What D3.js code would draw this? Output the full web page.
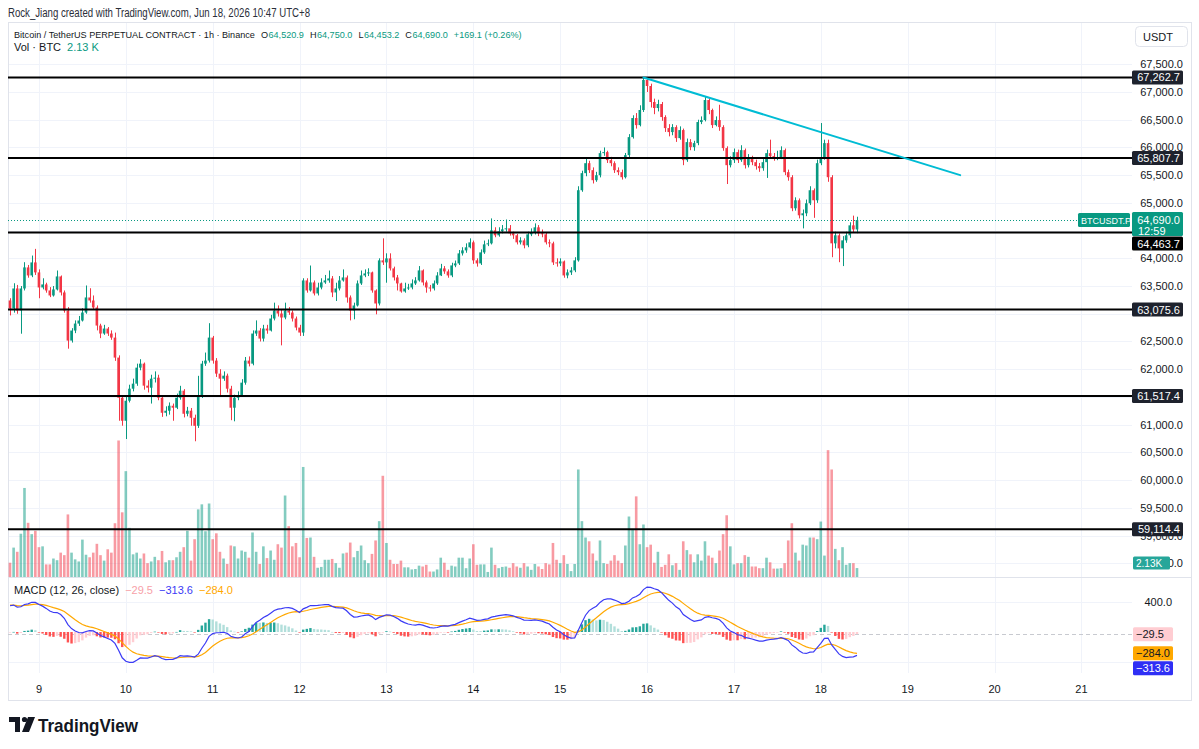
<!DOCTYPE html>
<html>
<head>
<meta charset="utf-8">
<title>BTCUSDT.P 1h</title>
<script src="https://cdn.jsdelivr.net/npm/d3@7/dist/d3.min.js"></script>
<style>
  html, body { margin: 0; padding: 0; background: #fff; }
  svg { display: block; font-family: "Liberation Sans", Arial, sans-serif; }
</style>
</head>
<body>
<svg id="chart" width="1199" height="749"></svg>
<script>
'use strict';

// hourly candles from Jun 8 16:00 to Jun 18 10:00 (UTC+8), open = previous close
var firstOpen = 63240;
var closes = [
    63095, 63456, 63059, 63456, 63836, 63691, 63926, 63746, 63474, 63529,
    63420, 63330, 63438, 63673, 63384, 63059, 62516, 62697, 62823, 62878,
    63022, 63294, 63239, 63113, 62787, 62643, 62733, 62643, 62570, 62209,
    61485, 61070, 61431, 61648, 61739, 62028, 62100, 61703, 61666, 61829,
    61847, 61485, 61214, 61251, 61341, 61305, 61485, 61612, 61196, 61251,
    61124, 60979, 61522, 62100, 62155, 62570, 62155, 61920, 61829, 61883,
    61648, 61305, 61485, 61522, 61757, 62155, 62100, 62643, 62697, 62552,
    62733, 62697, 62914, 63059, 63004, 62932, 63059, 63022, 62914, 62751,
    62661, 63601, 63420, 63565, 63366, 63474, 63565, 63601, 63637, 63384,
    63456, 63601, 63655, 63294, 63059, 63149, 63547, 63691, 63727, 63746,
    63420, 63185, 63963, 63926, 63999, 63818, 63655, 63547, 63402, 63456,
    63474, 63547, 63601, 63782, 63565, 63474, 63456, 63547, 63691, 63818,
    63764, 63691, 63872, 63908, 64089, 64143, 64198, 64288, 63963, 63908,
    64107, 64252, 64270, 64505, 64415, 64487, 64523, 64541, 64451, 64415,
    64288, 64324, 64234, 64433, 64469, 64559, 64451, 64433, 64288, 64270,
    63926, 63908, 63944, 63691, 63746, 63782, 63963, 65228, 65536, 65716,
    65590, 65409, 65499, 65897, 65915, 65771, 65716, 65590, 65554, 65463,
    65861, 66186, 66530, 66403, 66675, 67217, 67108, 66819, 66711, 66783,
    66548, 66349, 66277, 66367, 66168, 66313, 65771, 66096, 66006, 66078,
    66458, 66494, 66855, 66675, 66403, 66494, 66367, 65988, 65680, 65771,
    65915, 65771, 65951, 65680, 65807, 65734, 65662, 65626, 65734, 65897,
    65843, 65807, 65825, 65951, 65554, 65463, 64903, 65047, 64776, 64812,
    64993, 65228, 65047, 65716, 65825, 66078, 65463, 64270, 64415, 64179,
    64324, 64415, 64595, 64520.9, 64690
];
var highs = [
    63280, 63550, 63520, 63500, 63930, 63880, 64050, 64170, 63800, 63640,
    63560, 63480, 63500, 63780, 63690, 63420, 63120, 62740, 62880, 62960,
    63100, 63510, 63460, 63330, 63150, 62820, 62800, 62760, 62700, 62660,
    62250, 61520, 61500, 61720, 61830, 62100, 62180, 62120, 61800, 61900,
    61960, 61900, 61520, 61330, 61400, 61380, 61560, 61700, 61640, 61320,
    61300, 61180, 61880, 62150, 62300, 62830, 62600, 62200, 62000, 61960,
    61920, 61700, 61540, 61600, 61820, 62220, 62230, 62700, 62880, 62740,
    62800, 62800, 62980, 63200, 63150, 63080, 63200, 63120, 63060, 62950,
    62800, 63640, 63640, 63870, 63600, 63560, 63640, 63700, 63780, 63680,
    63560, 63680, 63800, 63690, 63330, 63200, 63600, 63780, 63800, 63820,
    63760, 63440, 64000, 64360, 64090, 64090, 63850, 63700, 63560, 63560,
    63540, 63620, 63660, 63860, 63800, 63600, 63520, 63600, 63750, 63900,
    63860, 63800, 63920, 63960, 64150, 64200, 64270, 64360, 64320, 64000,
    64160, 64320, 64340, 64720, 64560, 64560, 64600, 64700, 64600, 64480,
    64440, 64380, 64360, 64480, 64540, 64630, 64600, 64520, 64460, 64340,
    64300, 64000, 64000, 63960, 63800, 63840, 64020, 65300, 65580, 65800,
    65760, 65640, 65560, 65940, 66000, 65940, 65830, 65750, 65640, 65600,
    65900, 66240, 66580, 66620, 66760, 67262.7, 67240, 67150, 66880, 66860,
    66820, 66580, 66420, 66420, 66400, 66380, 66340, 66160, 66150, 66120,
    66500, 66560, 66910, 66900, 66700, 66560, 66770, 66400, 66020, 65840,
    65980, 65960, 66040, 65980, 65880, 65850, 65780, 65720, 65790, 65960,
    66140, 65900, 65940, 66020, 65980, 65600, 65500, 65100, 65080, 64880,
    65060, 65300, 65260, 65780, 66440, 66140, 66140, 65500, 64480, 64450,
    64400, 64480, 64650, 64770, 64750
];
var lows = [
    62970, 63020, 63000, 62640, 63420, 63650, 63660, 63700, 63280, 63440,
    63380, 63300, 63310, 63420, 63330, 63020, 62370, 62480, 62650, 62780,
    62860, 63000, 63200, 63080, 62700, 62560, 62620, 62600, 62530, 62150,
    61070, 60980, 60740, 61400, 61600, 61700, 61980, 61630, 61580, 61380,
    61760, 61440, 61140, 61150, 61180, 61070, 61280, 61450, 61130, 61150,
    60980, 60700, 60940, 61480, 62060, 62120, 62100, 61860, 61520, 61790,
    61580, 61080, 61060, 61440, 61500, 61720, 62050, 62070, 62600, 62500,
    62500, 62640, 62680, 62880, 62950, 62430, 62900, 62980, 62860, 62700,
    62600, 62600, 63380, 63400, 63330, 63330, 63440, 63540, 63560, 63300,
    63230, 63420, 63580, 63200, 62880, 62900, 63130, 63520, 63660, 63680,
    63380, 62990, 63150, 63880, 63560, 63780, 63600, 63420, 63380, 63380,
    63430, 63440, 63520, 63580, 63510, 63380, 63400, 63420, 63520, 63680,
    63720, 63650, 63660, 63840, 63880, 64050, 64100, 64180, 63900, 63850,
    63880, 64080, 64220, 64250, 64380, 64390, 64450, 64480, 64410, 64350,
    64250, 64250, 64180, 64200, 64400, 64430, 64400, 64380, 64250, 64200,
    63880, 63850, 63860, 63650, 63640, 63700, 63750, 63940, 65200, 65480,
    65540, 65350, 65380, 65460, 65850, 65720, 65660, 65540, 65500, 65420,
    65440, 65820, 66160, 66340, 66380, 66640, 67000, 66720, 66600, 66650,
    66480, 66280, 66200, 66220, 66100, 66140, 65680, 65740, 65950, 65940,
    66040, 66420, 66470, 66600, 66350, 66380, 66300, 65940, 65340, 65640,
    65720, 65720, 65740, 65620, 65640, 65680, 65600, 65560, 65580, 65450,
    65800, 65760, 65770, 65790, 65500, 65400, 64850, 64860, 64720, 64540,
    64760, 64960, 64730, 65000, 65680, 65780, 65380, 64020, 64180, 63930,
    63860, 64280, 64370, 64460, 64453.2
];
// volume in thousands of BTC
var volumesK = [
    3.4, 7.0, 6.0, 10.3, 21.2, 12.9, 10.2, 11.0, 7.1, 7.3,
    3.0, 3.0, 4.4, 4.0, 5.8, 5.2, 14.9, 5.8, 4.2, 3.7,
    8.9, 5.3, 4.7, 5.8, 7.9, 5.2, 3.9, 6.6, 5.8, 12.8,
    32.5, 15.4, 25.2, 11.7, 5.4, 5.8, 4.4, 5.6, 3.3, 3.7,
    4.8, 4.0, 6.2, 3.5, 4.0, 4.0, 4.7, 6.0, 7.1, 11.0,
    3.9, 9.0, 16.1, 17.3, 10.9, 17.5, 9.0, 10.4, 6.0, 4.4,
    3.1, 7.5, 7.3, 4.4, 6.3, 6.0, 4.6, 10.6, 6.0, 3.1,
    7.3, 4.5, 6.3, 4.1, 7.8, 7.0, 19.4, 12.1, 7.3, 8.1,
    4.7, 26.2, 9.3, 9.4, 4.8, 2.2, 2.4, 4.1, 4.1, 4.3,
    3.3, 2.2, 5.6, 5.8, 8.2, 4.7, 6.2, 7.5, 4.0, 3.3,
    5.5, 8.7, 13.3, 24.1, 8.1, 4.1, 3.1, 3.1, 3.9, 2.3,
    2.3, 1.8, 1.9, 2.7, 2.5, 2.9, 1.3, 1.3, 1.8, 4.6,
    3.4, 1.7, 2.7, 2.5, 4.6, 4.6, 2.1, 4.4, 7.8, 2.9,
    3.0, 3.0, 1.2, 7.0, 2.9, 2.1, 2.4, 2.5, 2.2, 3.3,
    2.5, 2.2, 3.3, 2.5, 1.7, 3.1, 2.5, 1.9, 3.3, 3.0,
    8.1, 4.1, 3.3, 5.2, 3.1, 1.4, 3.1, 25.6, 13.3, 9.4,
    8.5, 5.6, 3.9, 8.7, 3.3, 3.1, 3.9, 5.2, 3.9, 3.3,
    7.5, 14.4, 11.3, 19.2, 7.8, 12.5, 7.1, 7.7, 3.4, 6.0,
    2.4, 2.9, 5.4, 2.8, 3.3, 1.7, 8.5, 6.4, 5.4, 3.5,
    5.4, 3.9, 8.5, 5.1, 4.6, 3.3, 6.3, 10.2, 14.7, 7.3,
    3.0, 3.3, 3.3, 5.2, 4.8, 2.5, 2.5, 2.1, 2.1, 4.6,
    3.5, 2.0, 2.0, 2.1, 3.3, 8.7, 12.8, 5.8, 3.9, 7.7,
    7.5, 9.4, 9.4, 9.0, 13.2, 5.1, 30.2, 25.6, 6.7, 4.0,
    7.1, 2.9, 3.3, 3.3, 2.13
];

var dayTicks = [9, 10, 11, 12, 13, 14, 15, 16, 17, 18, 19, 20, 21];
var priceTicks = [58500, 59000, 59500, 60000, 60500, 61000, 61500, 62000, 62500,
    63000, 63500, 64000, 64500, 65000, 65500, 66000, 66500, 67000, 67500];
var levels = [67262.7, 65807.7, 64463.7, 63075.6, 61517.4, 59114.4];
var trendPoints = [[175, 67262.7], [262.5, 65500]];
var lastPrice = 64690;
var countdown = '12:59';
var lastVolLabel = '2.13K';
var macdGrid = [400, -400];
var macdAxisTicks = [400];
var macdLastValues = [-29.5, -284.0, -313.6];
var macdLastTexts = ['\u221229.5', '\u2212284.0', '\u2212313.6'];
// EMA state carried in from the candles before the visible window
var emaFastStart = 63000;
var emaSlowStart = 62630;
var signalStart = 360;

var UP = '#089981';
var DOWN = '#f23645';
var TEXT = '#131722';
var GRID = '#f0f3fa';

var svg = d3.select('#chart');
var fmtPrice = d3.format(',.1f');

var plotLeft = 8;
var plotRight = 1132;
var frameRight = 1191;
var paneSplit = 577;
var macdBottom = 673;

var x = d3.scaleLinear().domain([0, 234]).range([10, 857]);
var y = d3.scaleLinear().domain([59000, 67000]).range([535.5, 92]);
var yVol = d3.scaleLinear().domain([0, 35]).range([paneSplit, 430]);
var yMacd = d3.scaleLinear().domain([-400, 400]).range([662, 602]);

// hour 0 of the series is Jun 8 16:00, so midnight of day d sits at index (d - 9) * 24 + 8
function dayIndex(d) { return (d - 9) * 24 + 8; }

var candles = closes.map(function(c, i) {
    var o = i === 0 ? firstOpen : closes[i - 1];
    return {
        i: i, o: o, c: c,
        h: Math.max(highs[i], o, c),
        l: Math.min(lows[i], o, c),
        v: volumesK[i]
    };
});

// MACD (12, 26, close)
var kFast = 2 / 13, kSlow = 2 / 27, kSig = 2 / 10;
var eFast = emaFastStart, eSlow = emaSlowStart, sig = signalStart;
var macdRows = closes.map(function(c, i) {
    eFast = c * kFast + eFast * (1 - kFast);
    eSlow = c * kSlow + eSlow * (1 - kSlow);
    var m = eFast - eSlow;
    sig = m * kSig + sig * (1 - kSig);
    return {i: i, macd: m, signal: sig, hist: m - sig};
});

var defs = svg.append('defs');
defs.append('clipPath').attr('id', 'clipPrice')
    .append('rect').attr('x', plotLeft).attr('y', 22).attr('width', plotRight - plotLeft).attr('height', paneSplit - 22);
defs.append('clipPath').attr('id', 'clipMacd')
    .append('rect').attr('x', plotLeft).attr('y', paneSplit).attr('width', plotRight - plotLeft).attr('height', macdBottom - paneSplit);

// grid
var grid = svg.append('g');
grid.selectAll('line.v').data(dayTicks).enter().append('line')
    .attr('x1', function(d) { return Math.round(x(dayIndex(d))) + 0.5; })
    .attr('x2', function(d) { return Math.round(x(dayIndex(d))) + 0.5; })
    .attr('y1', 22).attr('y2', macdBottom)
    .attr('stroke', GRID);
grid.selectAll('line.h').data(priceTicks).enter().append('line')
    .attr('x1', plotLeft).attr('x2', plotRight)
    .attr('y1', function(d) { return Math.round(y(d)) + 0.5; })
    .attr('y2', function(d) { return Math.round(y(d)) + 0.5; })
    .attr('stroke', GRID);
grid.selectAll('line.m').data(macdGrid).enter().append('line')
    .attr('x1', plotLeft).attr('x2', plotRight)
    .attr('y1', function(d) { return Math.round(yMacd(d)) + 0.5; })
    .attr('y2', function(d) { return Math.round(yMacd(d)) + 0.5; })
    .attr('stroke', GRID);

// frame and pane separator
svg.append('rect')
    .attr('x', 8.5).attr('y', 22.5).attr('width', frameRight - 8).attr('height', 678)
    .attr('fill', 'none').attr('stroke', '#e0e3eb');
svg.append('line')
    .attr('x1', 8).attr('x2', frameRight).attr('y1', paneSplit + 0.5).attr('y2', paneSplit + 0.5)
    .attr('stroke', '#e0e3eb');

var pricePane = svg.append('g').attr('clip-path', 'url(#clipPrice)');

// volume
var barW = 2.6;
pricePane.append('g').selectAll('rect').data(candles).enter().append('rect')
    .attr('x', function(d) { return x(d.i) - barW / 2; })
    .attr('width', barW)
    .attr('y', function(d) { return yVol(d.v); })
    .attr('height', function(d) { return paneSplit - yVol(d.v); })
    .attr('fill', function(d) { return d.c >= d.o ? 'rgba(8,153,129,0.5)' : 'rgba(242,54,69,0.5)'; });

// candles
var cg = pricePane.append('g');
cg.selectAll('line').data(candles).enter().append('line')
    .attr('x1', function(d) { return Math.round(x(d.i)) + 0.5; })
    .attr('x2', function(d) { return Math.round(x(d.i)) + 0.5; })
    .attr('y1', function(d) { return y(d.h); })
    .attr('y2', function(d) { return y(d.l); })
    .attr('stroke', function(d) { return d.c >= d.o ? UP : DOWN; })
    .attr('stroke-width', 1);
cg.selectAll('rect').data(candles).enter().append('rect')
    .attr('x', function(d) { return x(d.i) - barW / 2; })
    .attr('width', barW)
    .attr('y', function(d) { return y(Math.max(d.o, d.c)); })
    .attr('height', function(d) { return Math.max(1, Math.abs(y(d.o) - y(d.c))); })
    .attr('fill', function(d) { return d.c >= d.o ? UP : DOWN; });

// horizontal levels
pricePane.append('g').selectAll('line').data(levels).enter().append('line')
    .attr('x1', plotLeft).attr('x2', plotRight)
    .attr('y1', function(d) { return y(d); })
    .attr('y2', function(d) { return y(d); })
    .attr('stroke', '#000').attr('stroke-width', 2);

// trendline
pricePane.append('line')
    .attr('x1', x(trendPoints[0][0])).attr('y1', y(trendPoints[0][1]))
    .attr('x2', x(trendPoints[1][0])).attr('y2', y(trendPoints[1][1]))
    .attr('stroke', '#00bcd4').attr('stroke-width', 2).attr('stroke-linecap', 'round');

// last price line
pricePane.append('line')
    .attr('x1', plotLeft).attr('x2', 1078)
    .attr('y1', Math.round(y(lastPrice)) + 0.5).attr('y2', Math.round(y(lastPrice)) + 0.5)
    .attr('stroke', UP).attr('stroke-width', 1).attr('stroke-dasharray', '1,2');

// MACD pane
var macdPane = svg.append('g').attr('clip-path', 'url(#clipMacd)');
macdPane.append('line')
    .attr('x1', plotLeft).attr('x2', plotRight)
    .attr('y1', Math.round(yMacd(macdLastValues[0])) + 0.5)
    .attr('y2', Math.round(yMacd(macdLastValues[0])) + 0.5)
    .attr('stroke', '#c8cad0').attr('stroke-dasharray', '4,3');
macdPane.append('g').selectAll('rect').data(macdRows).enter().append('rect')
    .attr('x', function(d) { return x(d.i) - 1.2; })
    .attr('width', 2.4)
    .attr('y', function(d) { return Math.min(yMacd(d.hist), yMacd(0)); })
    .attr('height', function(d) { return Math.max(0.6, Math.abs(yMacd(d.hist) - yMacd(0))); })
    .attr('fill', function(d, i) {
        var prev = i > 0 ? macdRows[i - 1].hist : d.hist;
        if(d.hist >= 0) return d.hist >= prev ? '#26a69a' : '#b2dfdb';
        return d.hist < prev ? '#ff5252' : '#ffcdd2';
    });
var signalLine = d3.line().x(function(d) { return x(d.i); }).y(function(d) { return yMacd(d.signal); });
var macdLine = d3.line().x(function(d) { return x(d.i); }).y(function(d) { return yMacd(d.macd); });
macdPane.append('path').datum(macdRows).attr('d', signalLine)
    .attr('fill', 'none').attr('stroke', '#ffa800').attr('stroke-width', 1.2);
macdPane.append('path').datum(macdRows).attr('d', macdLine)
    .attr('fill', 'none').attr('stroke', '#3b3bf5').attr('stroke-width', 1.2);

// right price axis: tick labels that sit under a level tag or the last price tag stay hidden
var lastTagTop = y(lastPrice) - 8;
var lastTagBottom = y(lastPrice) + 16;
function coveredTick(p) {
    var yp = y(p);
    if(yp > lastTagTop - 4 && yp < lastTagBottom + 4) return true;
    return levels.some(function(v) { return Math.abs(y(v) - yp) < 6; });
}
var axisG = svg.append('g').attr('font-size', 11).attr('fill', TEXT);
axisG.selectAll('text.p').data(priceTicks.filter(function(p) { return !coveredTick(p); }))
    .enter().append('text')
    .attr('x', 1183).attr('y', function(d) { return y(d) + 4; })
    .attr('text-anchor', 'end')
    .text(function(d) { return fmtPrice(d); });
axisG.selectAll('text.m').data(macdAxisTicks).enter().append('text')
    .attr('x', 1172).attr('y', function(d) { return yMacd(d) + 4; })
    .attr('text-anchor', 'end')
    .text(function(d) { return fmtPrice(d); });

function tag(x0, yc, w, h, fill, txt, color, anchor, size) {
    var g = svg.append('g');
    g.append('rect').attr('x', x0).attr('y', yc - h / 2).attr('width', w).attr('height', h)
        .attr('rx', 1.5).attr('fill', fill);
    g.append('text')
        .attr('x', anchor === 'end' ? x0 + w - 3 : x0 + 3)
        .attr('y', yc + 4)
        .attr('text-anchor', anchor === 'end' ? 'end' : 'start')
        .attr('font-size', size || 11).attr('fill', color)
        .text(txt);
    return g;
}

// last price tag
var lp = svg.append('g');
lp.append('rect').attr('x', 1132).attr('y', lastTagTop).attr('width', 51).attr('height', lastTagBottom - lastTagTop)
    .attr('rx', 1.5).attr('fill', UP);
lp.append('text').attr('x', 1180).attr('y', y(lastPrice) + 4).attr('text-anchor', 'end')
    .attr('font-size', 11).attr('fill', '#fff').text(fmtPrice(lastPrice));
lp.append('text').attr('x', 1138).attr('y', y(lastPrice) + 14.5)
    .attr('font-size', 11).attr('fill', '#fff').text(countdown);
tag(1078, y(lastPrice), 52, 14, UP, 'BTCUSDT.P', '#fff', 'start', 9);

// level tags, pushed below the last price tag where they would collide
levels.forEach(function(v) {
    var yc = y(v);
    if(yc + 7 > lastTagTop && yc - 7 < lastTagBottom) yc = lastTagBottom + 7.5;
    tag(1132, yc, 51, 14, v === 64463.7 ? '#000' : '#1e222d', fmtPrice(v), '#fff', 'end');
});

// volume tag (kept inside the pane)
tag(1133, Math.min(yVol(volumesK[volumesK.length - 1]), 563), 37, 13, '#26a69a', lastVolLabel, '#fff', 'start', 10);

// MACD tags, stacked so they do not overlap
var macdTagFill = ['#ffcdd2', '#ffa800', '#2f2ff5'];
var macdTagText = [TEXT, TEXT, '#fff'];
var macdTagY = [];
macdLastValues.forEach(function(v, k) {
    var yc = yMacd(v);
    if(k > 0 && yc < macdTagY[k - 1] + 15) yc = macdTagY[k - 1] + 15;
    macdTagY.push(yc);
    tag(1133, yc, 40, 14, macdTagFill[k], macdLastTexts[k], macdTagText[k], 'start');
});

// USDT button
svg.append('rect').attr('x', 1135.5).attr('y', 26.5).attr('width', 52).attr('height', 20)
    .attr('rx', 4).attr('fill', '#fff').attr('stroke', '#e0e3eb');
svg.append('text').attr('x', 1143).attr('y', 40.5).attr('font-size', 11).attr('fill', TEXT).text('USDT');

// time axis
svg.append('g').selectAll('text').data(dayTicks).enter().append('text')
    .attr('x', function(d) { return x(dayIndex(d)); })
    .attr('y', 693)
    .attr('text-anchor', 'middle')
    .attr('font-size', 11).attr('fill', TEXT)
    .text(function(d) { return d; });

// legend lines: pieces laid out one after another, font shrunk to fit the target width
function legendLine(x0, y0, size, target, parts) {
    var g = svg.append('g');
    var texts = parts.map(function(p) {
        return g.append('text').attr('y', y0).attr('font-size', size).attr('fill', p[1]).text(p[0]);
    });
    var gaps = d3.sum(parts, function(p) { return p[2] || 0; });
    var natural = d3.sum(texts, function(t) { return t.node().getComputedTextLength(); });
    var fs = target ? Math.min(size, size * (target - gaps) / natural) : size;
    var cx = x0;
    texts.forEach(function(t, k) {
        t.attr('font-size', fs).attr('x', cx);
        cx += t.node().getComputedTextLength() + (parts[k][2] || 0);
    });
    return g;
}
svg.append('text').attr('x', 8).attr('y', 17).attr('font-size', 12).attr('fill', '#2a2e39')
    .attr('textLength', 302).attr('lengthAdjust', 'spacingAndGlyphs')
    .text('Rock_Jiang created with TradingView.com, Jun 18, 2026 10:47 UTC+8');
legendLine(14, 38, 11.5, 508, [
    ['Bitcoin / TetherUS PERPETUAL CONTRACT \u00b7 1h \u00b7 Binance', TEXT, 6],
    ['O', TEXT, 0.5], ['64,520.9', UP, 6],
    ['H', TEXT, 0.5], ['64,750.0', UP, 6],
    ['L', TEXT, 0.5], ['64,453.2', UP, 6],
    ['C', TEXT, 0.5], ['64,690.0', UP, 6],
    ['+169.1 (+0.26%)', UP, 0]
]);
legendLine(14, 51, 11, 0, [['Vol \u00b7 BTC', TEXT, 6], ['2.13 K', UP, 0]]);
legendLine(14, 594, 11, 0, [
    ['MACD (12, 26, close)', TEXT, 6],
    ['\u221229.5', '#f7a1a8', 6],
    ['\u2212313.6', '#3b3bf5', 6],
    ['\u2212284.0', '#ffa800', 0]
]);

// TradingView logo
var logo = svg.append('g').attr('fill', '#131722');
logo.append('path').attr('d', 'M9,717 H20 V732 H15 V722 H9 Z');
logo.append('circle').attr('cx', 24.5).attr('cy', 719.5).attr('r', 2.6);
logo.append('path').attr('d', 'M28,717 H35 L29,732 H22 Z');
logo.append('text').attr('x', 38).attr('y', 731.5).attr('font-size', 19).attr('font-weight', 'bold')
    .attr('textLength', 100).attr('lengthAdjust', 'spacingAndGlyphs')
    .text('TradingView');
</script>
</body>
</html>
